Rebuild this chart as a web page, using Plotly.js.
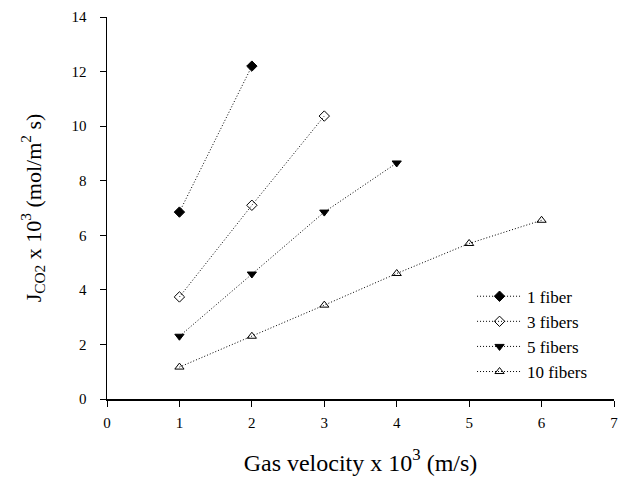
<!DOCTYPE html>
<html>
<head>
<meta charset="utf-8">
<script src="https://cdn.plot.ly/plotly-3.0.1.min.js"></script>
<style>html,body{margin:0;padding:0;background:#fff;}#chart{width:619px;height:492px;}</style>
</head>
<body>
<div id="chart"></div>
<script>
const seriesNames = ["1 fiber", "3 fibers", "5 fibers", "10 fibers"];
const x1 = [1, 2];
const y1 = [6.85, 12.2];
const x3 = [1, 2, 3];
const y3 = [3.74, 7.1, 10.37];
const x5 = [1, 2, 3, 4];
const y5 = [2.3, 4.58, 6.85, 8.65];
const x10 = [1, 2, 3, 4, 5, 6];
const y10 = [1.17, 2.3, 3.44, 4.6, 5.7, 6.55];
const xTicks = [0, 1, 2, 3, 4, 5, 6, 7];
const yTicks = [0, 2, 4, 6, 8, 10, 12, 14];

const serif = "'Liberation Serif', 'Times New Roman', Times, serif";
const line = {color: "black", width: 1, dash: "1px,2px"};
function tr(x, y, name, symbol) {
  return {x: x, y: y, name: name, type: "scatter", mode: "lines+markers",
    line: line, marker: {symbol: symbol, size: 8, color: "black", line: {color: "black", width: 1}}};
}
const data = [
  tr(x1, y1, seriesNames[0], "diamond"),
  tr(x3, y3, seriesNames[1], "diamond-open"),
  tr(x5, y5, seriesNames[2], "triangle-down"),
  tr(x10, y10, seriesNames[3], "triangle-up-open")
];
const layout = {
  width: 619, height: 492,
  margin: {l: 107, r: 5, t: 17, b: 93},
  paper_bgcolor: "white", plot_bgcolor: "white",
  font: {family: serif, color: "black", size: 13},
  showlegend: true,
  legend: {x: 0.72, y: 0.315, xanchor: "left", yanchor: "top", bgcolor: "rgba(0,0,0,0)",
    font: {family: serif, size: 17, color: "black"}, itemwidth: 45, tracegroupgap: 0},
  xaxis: {range: [0, 7], tickvals: xTicks, ticktext: xTicks.map(String), showgrid: false, zeroline: false,
    showline: true, linecolor: "black", linewidth: 1.5, ticks: "outside", ticklen: 6, tickcolor: "black",
    tickfont: {family: serif, size: 15}, ticklabelstandoff: 3,
    title: {text: "Gas velocity x 10<sup>3</sup> (m/s)", font: {family: serif, size: 24}, standoff: 24}},
  yaxis: {range: [0, 14], tickvals: yTicks, ticktext: yTicks.map(String), showgrid: false, zeroline: false,
    showline: true, linecolor: "black", linewidth: 1.5, ticks: "outside", ticklen: 6, tickcolor: "black",
    tickfont: {family: serif, size: 15}, ticklabelstandoff: 10,
    title: {text: "J<sub>CO</sub><sub>2</sub> x 10<sup>3</sup> (mol/m<sup>2</sup> s)", font: {family: serif, size: 22}, standoff: 24}}
};
Plotly.newPlot("chart", data, layout, {displayModeBar: false, staticPlot: true});
</script>
</body>
</html>
